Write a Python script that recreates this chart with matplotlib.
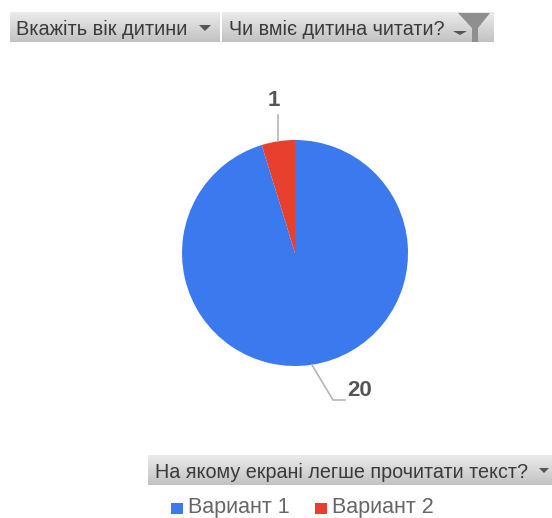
import matplotlib
matplotlib.use('Agg')
import matplotlib.pyplot as plt
import numpy as np

W, H = 552, 518

series_names = ['Вариант 1', 'Вариант 2']
series_values = [20, 1]
series_colors = ['#3b7aee', '#e8402f']

age_filter = 'Вкажіть вік дитини'
read_filter = 'Чи вміє дитина читати?'
axis_filter = 'На якому екрані легше прочитати текст?'

TEXT = '#3a3a3a'
LABEL = '#555555'
LEADER = '#b5b5b5'
FILTER_FONT = 'Liberation Sans'

CX, CY, R = 295, 253, 113


def Y(y):
    # pixel row, counted from the top, to data y
    return H - y


def DrawButton(ax, x0, x1, y0, y1):
    grad = np.linspace(0.92, 0.76, 64).reshape(-1, 1)
    ax.imshow(grad, cmap='gray', vmin=0, vmax=1, aspect='auto',
              extent=(x0, x1, Y(y1), Y(y0)), zorder=1)


def DrawArrow(ax, x, y, half=6, tall=6, color='#555555'):
    ax.fill([x - half, x + half, x], [Y(y), Y(y), Y(y + tall)], color=color, lw=0, zorder=3)


fig = plt.figure(figsize=(W / 100, H / 100), dpi=100)
ax = fig.add_axes([0, 0, 1, 1])

# filter buttons
DrawButton(ax, 10, 220, 12, 42)
DrawButton(ax, 222, 494, 12, 42)
DrawButton(ax, 148, 552, 455, 485)

ax.text(16, Y(29), age_filter, family=FILTER_FONT, fontsize=14.4, color=TEXT, va='center', zorder=3)
ax.text(229, Y(29), read_filter, family=FILTER_FONT, fontsize=14.2, color=TEXT, va='center', zorder=3)
ax.text(155, Y(472), axis_filter, family=FILTER_FONT, fontsize=14.2, color=TEXT, va='center', zorder=3)

DrawArrow(ax, 205, 25, half=6, tall=6)
DrawArrow(ax, 460, 31, half=7, tall=4)
DrawArrow(ax, 544, 468, half=5, tall=5)

# funnel icon
ax.fill([458, 490, 478, 478, 472, 472], [Y(13), Y(13), Y(28), Y(42), Y(42), Y(28)],
        color='#8f8f8f', lw=0, zorder=2)

# pie, clockwise from the top
wedges, _ = ax.pie(series_values, colors=series_colors, startangle=90, counterclock=False,
                   center=(CX, Y(CY)), radius=R, frame=False)

# leader lines start at the middle of each wedge
mid = [np.deg2rad((w.theta1 + w.theta2) / 2) for w in wedges]
x_blue = CX + R * np.cos(mid[0])
y_blue = Y(CY) + R * np.sin(mid[0])
x_red = CX + R * np.cos(mid[1])
y_red = Y(CY) + R * np.sin(mid[1])

ax.plot([x_blue, 333, 345], [y_blue, Y(400), Y(400)], color=LEADER, lw=1.2, zorder=2)
ax.plot([x_red, x_red], [y_red, Y(115)], color=LEADER, lw=1.2, zorder=2)

ax.text(347, Y(391), str(series_values[0]), family='Liberation Sans', fontsize=16,
        fontweight='bold', color=LABEL, va='center', ha='left')
ax.text(x_red - 4, Y(101), str(series_values[1]), family='Liberation Sans', fontsize=16,
        fontweight='bold', color=LABEL, va='center', ha='center')

# legend
legend_x = [171, 315]
for x, name, color in zip(legend_x, series_names, series_colors):
    ax.fill([x, x + 12, x + 12, x], [Y(503), Y(503), Y(514), Y(514)], color=color, lw=0)
    ax.text(x + 17, Y(508), name, family='Liberation Sans', fontsize=15.5, color='#666666', va='center')

ax.set_xlim(0, W)
ax.set_ylim(0, H)
ax.set_aspect('auto')
ax.axis('off')

fig.savefig('out.png', dpi=100)
